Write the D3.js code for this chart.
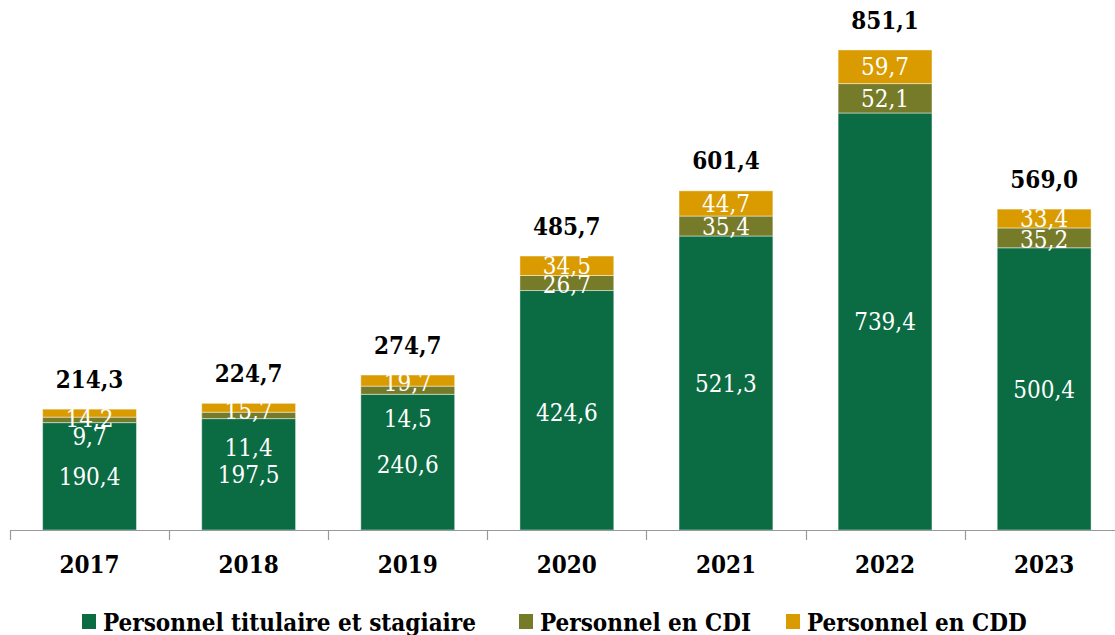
<!DOCTYPE html>
<html><head><meta charset="utf-8">
<script src="https://cdn.jsdelivr.net/npm/d3@7"></script>
<style>
html,body{margin:0;padding:0;background:#fff;}
svg{display:block;font-family:"DejaVu Serif",serif;font-stretch:condensed;}
</style></head>
<body>
<svg id="chart" width="1115" height="635"></svg>
<script>
const years = ["2017","2018","2019","2020","2021","2022","2023"];
const titulaires = [190.4,197.5,240.6,424.6,521.3,739.4,500.4];
const cdi = [9.7,11.4,14.5,26.7,35.4,52.1,35.2];
const cdd = [14.2,15.7,19.7,34.5,44.7,59.7,33.4];
const totals = [214.3,224.7,274.7,485.7,601.4,851.1,569.0];
const seriesNames = ["Personnel titulaire et stagiaire","Personnel en CDI","Personnel en CDD"];
const colors = ["#0b6b43","#767b2a","#d99b00"];
// label nudges (px) for crowded labels [titulaires, cdi, cdd]
const nudges = {"2017":[0,16,5],"2018":[0,32,3],"2019":[2,28,2],"2020":[2,1,0],"2021":[0,0,0],"2022":[0,0,0],"2023":[0,1,0]};

const fmt = v => v.toFixed(1).replace(".", ",");
const svg = d3.select("#chart");
const baseY = 530;
const x = d3.scaleBand().domain(years).range([10, 10 + 7*159.1]).paddingInner(0.41).paddingOuter(0.205);
const y = d3.scaleLinear().domain([0, 851.1]).range([baseY, 50]);

const rows = years.map((yr,i)=>({year:yr, t:titulaires[i], c:cdi[i], d:cdd[i], total:totals[i]}));
const stack = d3.stack().keys(["t","c","d"])(rows);

const g = svg.append("g");
stack.forEach((layer, li) => {
  g.append("g").selectAll("rect").data(layer).join("rect")
    .attr("x", d => x(d.data.year))
    .attr("width", x.bandwidth())
    .attr("y", d => y(d[1]))
    .attr("height", d => y(d[0]) - y(d[1]))
    .attr("fill", colors[li])
    .attr("stroke", "rgba(255,255,255,0.45)")
    .attr("stroke-width", 1);
});
stack.forEach((layer, li) => {
  g.append("g").selectAll("text").data(layer).join("text")
    .attr("x", d => x(d.data.year) + x.bandwidth()/2)
    .attr("y", d => (y(d[0]) + y(d[1]))/2 + nudges[d.data.year][li])
    .attr("dy", "0.36em")
    .attr("text-anchor", "middle")
    .attr("fill", "#fff")
    .attr("font-size", 24)
    .text(d => fmt(d[1]-d[0]));
});
// totals
g.append("g").selectAll("text").data(rows).join("text")
  .attr("x", d => x(d.year) + x.bandwidth()/2)
  .attr("y", d => y(d.total) - 30)
  .attr("dy", "0.36em")
  .attr("text-anchor", "middle")
  .attr("font-weight", "bold")
  .attr("font-size", 24)
  .attr("fill", "#000")
  .text(d => fmt(d.total));

// axis
const axis = svg.append("g");
axis.append("line").attr("x1", 10).attr("x2", 1115).attr("y1", baseY+0.5).attr("y2", baseY+0.5)
  .attr("stroke", "#999").attr("stroke-width", 1.2);
const step = x.step();
d3.range(0, 8).forEach(k => {
  const tx = Math.round(10 + k*step) + 0.5;
  axis.append("line").attr("x1", tx).attr("x2", tx).attr("y1", baseY).attr("y2", baseY+10)
    .attr("stroke", "#999").attr("stroke-width", 1.2);
});
axis.selectAll("text.yr").data(years).join("text")
  .attr("x", d => x(d) + x.bandwidth()/2)
  .attr("y", 564).attr("dy", "0.36em")
  .attr("text-anchor", "middle").attr("font-weight", "bold").attr("font-size", 24)
  .text(d => d);

// legend
const legendX = [82, 519, 786];
const lg = svg.append("g");
seriesNames.forEach((n, i) => {
  lg.append("rect").attr("x", legendX[i]).attr("y", 614).attr("width", 14).attr("height", 15).attr("fill", colors[i]);
  lg.append("text").attr("x", legendX[i] + 21).attr("y", 622).attr("dy", "0.36em")
    .attr("font-weight", "bold").attr("font-size", 24).text(n);
});
</script>
</body></html>
